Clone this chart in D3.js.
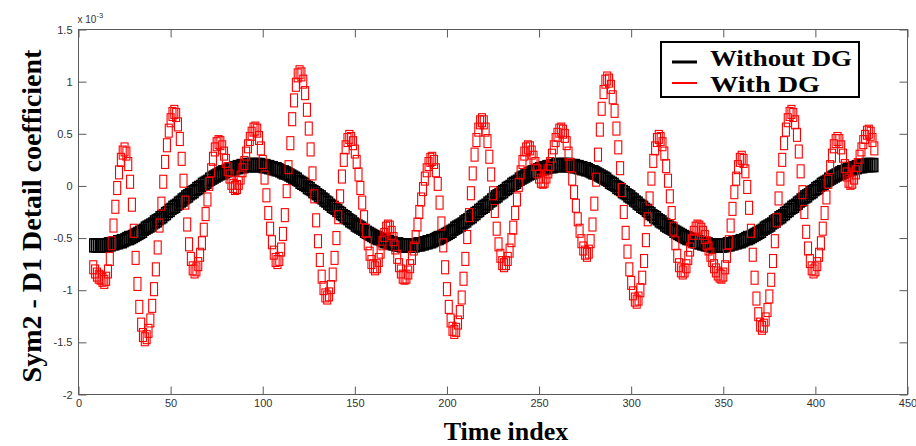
<!DOCTYPE html>
<html>
<head>
<meta charset="utf-8">
<script src="https://cdn.jsdelivr.net/npm/d3@7"></script>
<style>
  html, body { margin: 0; padding: 0; background: #fff; }
  svg { display: block; }
</style>
</head>
<body>
<div id="chart"></div>
<script>
// ---------------- DATA ----------------
const firstIndex = 8; // first time index plotted
const xTickValues = [0, 50, 100, 150, 200, 250, 300, 350, 400, 450];
const yTickValues = [-2, -1.5, -1, -0.5, 0, 0.5, 1, 1.5];
const yTickLabels = ["-2", "-1.5", "-1", "-0.5", "0", "0.5", "1", "1.5"];
const seriesNames = ["Without DG", "With DG"];
const seriesColors = ["#000000", "#ff0000"];

// Without DG (x 10^-3), one value per time index starting at firstIndex
const withoutDG = [
  -0.57,-0.57,-0.57,
  -0.57,-0.57,-0.57,-0.57,-0.57,-0.56,-0.56,-0.56,-0.55,-0.55,
  -0.54,-0.54,-0.53,-0.53,-0.52,-0.51,-0.50,-0.50,-0.49,-0.48,
  -0.47,-0.46,-0.45,-0.44,-0.43,-0.41,-0.40,-0.39,-0.38,-0.37,
  -0.35,-0.34,-0.33,-0.31,-0.30,-0.29,-0.27,-0.26,-0.24,-0.23,
  -0.21,-0.20,-0.19,-0.17,-0.16,-0.14,-0.13,-0.11,-0.10,-0.09,
  -0.07,-0.06,-0.05,-0.03,-0.02,-0.01,0.01,0.02,0.03,0.04,
  0.06,0.07,0.08,0.09,0.10,0.11,0.12,0.13,0.13,0.14,
  0.15,0.16,0.16,0.17,0.17,0.18,0.18,0.19,0.19,0.19,
  0.20,0.20,0.20,0.20,0.20,
  0.20,0.20,0.20,0.20,
  0.19,0.19,0.19,0.18,0.18,0.17,0.17,0.16,0.16,0.15,
  0.14,0.13,0.13,0.12,0.11,0.10,0.09,0.08,0.07,0.06,
  0.04,0.03,0.02,0.01,-0.01,-0.02,-0.03,-0.05,-0.06,-0.07,
  -0.09,-0.10,-0.11,-0.13,-0.14,-0.16,-0.17,-0.19,-0.20,-0.21,
  -0.23,-0.24,-0.26,-0.27,-0.29,-0.30,-0.31,-0.33,-0.34,-0.35,
  -0.37,-0.38,-0.39,-0.40,-0.41,-0.43,-0.44,-0.45,-0.46,-0.47,
  -0.48,-0.49,-0.50,-0.50,-0.51,-0.52,-0.53,-0.53,-0.54,-0.54,
  -0.55,-0.55,-0.56,-0.56,-0.56,-0.57,-0.57,-0.57,-0.57,-0.57,
  -0.57,-0.57,-0.57,-0.57,-0.56,-0.56,-0.56,-0.55,-0.55,
  -0.54,-0.54,-0.53,-0.53,-0.52,-0.51,-0.50,-0.50,-0.49,-0.48,
  -0.47,-0.46,-0.45,-0.44,-0.43,-0.41,-0.40,-0.39,-0.38,-0.37,
  -0.35,-0.34,-0.33,-0.31,-0.30,-0.29,-0.27,-0.26,-0.24,-0.23,
  -0.21,-0.20,-0.19,-0.17,-0.16,-0.14,-0.13,-0.11,-0.10,-0.09,
  -0.07,-0.06,-0.05,-0.03,-0.02,-0.01,0.01,0.02,0.03,0.04,
  0.06,0.07,0.08,0.09,0.10,0.11,0.12,0.13,0.13,0.14,
  0.15,0.16,0.16,0.17,0.17,0.18,0.18,0.19,0.19,0.19,
  0.20,0.20,0.20,0.20,0.20,
  0.20,0.20,0.20,0.20,
  0.19,0.19,0.19,0.18,0.18,0.17,0.17,0.16,0.16,0.15,
  0.14,0.13,0.13,0.12,0.11,0.10,0.09,0.08,0.07,0.06,
  0.04,0.03,0.02,0.01,-0.01,-0.02,-0.03,-0.05,-0.06,-0.07,
  -0.09,-0.10,-0.11,-0.13,-0.14,-0.16,-0.17,-0.19,-0.20,-0.21,
  -0.23,-0.24,-0.26,-0.27,-0.29,-0.30,-0.31,-0.33,-0.34,-0.35,
  -0.37,-0.38,-0.39,-0.40,-0.41,-0.43,-0.44,-0.45,-0.46,-0.47,
  -0.48,-0.49,-0.50,-0.50,-0.51,-0.52,-0.53,-0.53,-0.54,-0.54,
  -0.55,-0.55,-0.56,-0.56,-0.56,-0.57,-0.57,-0.57,-0.57,-0.57,
  -0.57,-0.57,-0.57,-0.57,-0.56,-0.56,-0.56,-0.55,-0.55,
  -0.54,-0.54,-0.53,-0.53,-0.52,-0.51,-0.50,-0.50,-0.49,-0.48,
  -0.47,-0.46,-0.45,-0.44,-0.43,-0.41,-0.40,-0.39,-0.38,-0.37,
  -0.35,-0.34,-0.33,-0.31,-0.30,-0.29,-0.27,-0.26,-0.24,-0.23,
  -0.21,-0.20,-0.19,-0.17,-0.16,-0.14,-0.13,-0.11,-0.10,-0.09,
  -0.07,-0.06,-0.05,-0.03,-0.02,-0.01,0.01,0.02,0.03,0.04,
  0.06,0.07,0.08,0.09,0.10,0.11,0.12,0.13,0.13,0.14,
  0.15,0.16,0.16,0.17,0.17,0.18,0.18,0.19,0.19,0.19,
  0.20,0.20,0.20,0.20,0.20,
  0.20
];

// With DG (x 10^-3), one value per time index starting at firstIndex
const withDG = [
  -0.78,-0.82,-0.85,-0.87,-0.88,-0.90,-0.92,-0.89,-0.82,-0.70,
  -0.55,-0.38,-0.20,-0.02,0.13,0.25,0.32,0.35,0.31,0.21,
  0.04,-0.18,-0.43,-0.69,-0.94,-1.16,-1.33,-1.43,-1.47,-1.45,
  -1.39,-1.29,-1.15,-0.99,-0.80,-0.59,-0.38,-0.17,0.04,0.23,
  0.39,0.53,0.63,0.69,0.71,0.68,0.59,0.45,0.26,0.05,
  -0.16,-0.37,-0.56,-0.70,-0.79,-0.82,-0.80,-0.75,-0.66,-0.55,
  -0.42,-0.27,-0.13,0.02,0.15,0.26,0.35,0.40,0.42,0.41,
  0.37,0.31,0.24,0.16,0.09,0.03,0.00,-0.02,-0.01,0.03,
  0.08,0.15,0.22,0.31,0.38,0.45,0.50,0.54,0.55,0.53,
  0.46,0.36,0.23,0.08,-0.09,-0.26,-0.41,-0.54,-0.64,-0.71,
  -0.73,-0.70,-0.61,-0.46,-0.28,-0.05,0.18,0.41,0.64,0.82,
  0.97,1.06,1.09,1.07,1.00,0.89,0.73,0.55,0.35,0.12,
  -0.10,-0.33,-0.53,-0.71,-0.87,-0.98,-1.05,-1.07,-1.04,-0.97,
  -0.85,-0.69,-0.50,-0.30,-0.10,0.09,0.25,0.37,0.44,0.47,
  0.45,0.41,0.33,0.23,0.11,-0.02,-0.16,-0.30,-0.43,-0.55,
  -0.65,-0.73,-0.77,-0.79,-0.77,-0.71,-0.63,-0.55,-0.47,-0.41,
  -0.39,-0.40,-0.45,-0.51,-0.59,-0.68,-0.76,-0.82,-0.87,-0.88,
  -0.87,-0.83,-0.77,-0.69,-0.60,-0.49,-0.37,-0.25,-0.13,-0.03,
  0.07,0.15,0.21,0.25,0.26,0.23,0.15,0.02,-0.16,-0.36,
  -0.57,-0.78,-0.99,-1.16,-1.29,-1.37,-1.40,-1.38,-1.31,-1.21,
  -1.07,-0.89,-0.70,-0.49,-0.28,-0.07,0.12,0.30,0.44,0.54,
  0.61,0.63,0.61,0.54,0.43,0.28,0.11,-0.07,-0.24,-0.41,
  -0.56,-0.67,-0.74,-0.76,-0.74,-0.70,-0.62,-0.52,-0.40,-0.26,
  -0.13,0.01,0.13,0.23,0.31,0.35,0.37,0.36,0.32,0.27,
  0.21,0.14,0.09,0.05,0.04,0.05,0.09,0.14,0.21,0.29,
  0.37,0.44,0.49,0.53,0.54,0.52,0.48,0.41,0.31,0.20,
  0.07,-0.06,-0.19,-0.32,-0.43,-0.53,-0.60,-0.64,-0.66,-0.63,
  -0.53,-0.37,-0.17,0.06,0.30,0.54,0.74,0.90,1.00,1.03,
  1.01,0.95,0.85,0.72,0.55,0.37,0.17,-0.04,-0.25,-0.45,
  -0.63,-0.80,-0.93,-1.03,-1.09,-1.11,-1.08,-1.00,-0.88,-0.72,
  -0.52,-0.32,-0.12,0.07,0.24,0.36,0.44,0.47,0.45,0.40,
  0.31,0.19,0.05,-0.10,-0.26,-0.41,-0.55,-0.67,-0.76,-0.81,
  -0.83,-0.81,-0.77,-0.69,-0.61,-0.53,-0.45,-0.41,-0.39,-0.40,
  -0.42,-0.45,-0.49,-0.55,-0.60,-0.66,-0.71,-0.77,-0.81,-0.84,
  -0.86,-0.87,-0.85,-0.78,-0.67,-0.54,-0.38,-0.22,-0.06,0.07,
  0.18,0.25,0.27,0.24,0.14,-0.01,-0.21,-0.43,-0.66,-0.88,
  -1.08,-1.23,-1.33,-1.36,-1.34,-1.28,-1.19,-1.06,-0.90,-0.72,
  -0.53,-0.33,-0.12,0.07,0.25,0.41,0.54,0.63,0.69,0.71,
  0.68,0.61,0.49,0.33,0.14,-0.06,-0.25,-0.44,-0.60,-0.72,
  -0.79,-0.82,-0.80,-0.75,-0.66,-0.55,-0.41,-0.26,-0.11,0.04,
  0.18,0.29,0.38,0.43,0.45,0.43,0.37,0.29,0.19,0.11,
  0.05,0.03,0.04,0.08,0.13,0.20,0.28,0.35,0.42,0.47,
  0.51,0.52,0.50,0.44,0.36
];

// ---------------- CHART ----------------
const W = 916, H = 446;
const plot = { left: 78.5, right: 907.5, top: 29.5, bottom: 394.5 };

const svg = d3.select("#chart").append("svg")
  .attr("width", W).attr("height", H)
  .attr("viewBox", `0 0 ${W} ${H}`);

const x = d3.scaleLinear().domain([0, 450]).range([plot.left, plot.right]);
const y = d3.scaleLinear().domain([-2, 1.5]).range([plot.bottom, plot.top]);

const axisColor = "#5a5a5a";
const tickFont = "'Liberation Sans', Arial, sans-serif";
const serif = "'Liberation Serif', 'Times New Roman', serif";

// data series
const series = [withoutDG, withDG].map((vals, s) =>
  vals.map((v, i) => ({ t: firstIndex + i, v, s })));

const mW = 7, mH = 13;
const plotG = svg.append("g");
series.forEach((pts, s) => {
  plotG.append("g")
    .attr("fill", "none")
    .attr("stroke", seriesColors[s])
    .attr("stroke-width", s === 0 ? 1.5 : 1.1)
    .selectAll("rect")
    .data(pts)
    .join("rect")
    .attr("x", d => x(d.t) - mW / 2)
    .attr("y", d => y(d.v) - mH / 2)
    .attr("width", mW)
    .attr("height", mH);
});

// axes (MATLAB style, ticks inside on all sides)
const tickLen = 8;
const fmtY = d => yTickLabels[yTickValues.indexOf(d)];

const gB = svg.append("g").attr("transform", `translate(0,${plot.bottom})`)
  .call(d3.axisBottom(x).tickValues(xTickValues).tickSizeInner(-tickLen).tickSizeOuter(0).tickPadding(5));
const gT = svg.append("g").attr("transform", `translate(0,${plot.top})`)
  .call(d3.axisTop(x).tickValues(xTickValues).tickSizeInner(-tickLen).tickSizeOuter(0).tickFormat(""));
const gL = svg.append("g").attr("transform", `translate(${plot.left},0)`)
  .call(d3.axisLeft(y).tickValues(yTickValues).tickSizeInner(-tickLen).tickSizeOuter(0).tickPadding(6).tickFormat(fmtY));
const gR = svg.append("g").attr("transform", `translate(${plot.right},0)`)
  .call(d3.axisRight(y).tickValues(yTickValues).tickSizeInner(-tickLen).tickSizeOuter(0).tickFormat(""));

[gB, gT, gL, gR].forEach(g => {
  g.select(".domain").remove();
  g.selectAll(".tick line").attr("stroke", axisColor).attr("stroke-width", 1);
  g.selectAll(".tick text").attr("fill", "#333").style("font-family", tickFont).style("font-size", "11px");
});

svg.append("rect")
  .attr("x", plot.left).attr("y", plot.top)
  .attr("width", plot.right - plot.left).attr("height", plot.bottom - plot.top)
  .attr("fill", "none").attr("stroke", axisColor).attr("stroke-width", 1);

// exponent label
const expT = svg.append("text")
  .attr("x", plot.left - 1).attr("y", 23)
  .attr("fill", "#333")
  .style("font-family", tickFont).style("font-size", "10px");
expT.append("tspan").text("x 10");
expT.append("tspan").attr("dy", -5).style("font-size", "7.5px").text("-3");

// axis titles
svg.append("text")
  .attr("x", 506).attr("y", 440)
  .attr("text-anchor", "middle")
  .style("font-family", serif).style("font-weight", "bold").style("font-size", "26px")
  .attr("fill", "#000")
  .text("Time index");

svg.append("text")
  .attr("transform", "translate(41,216) rotate(-90)")
  .attr("text-anchor", "middle")
  .style("font-family", serif).style("font-weight", "bold").style("font-size", "28px")
  .attr("fill", "#000")
  .text("Sym2 - D1 Detail coefficient");

// legend
const lg = svg.append("g");
lg.append("rect")
  .attr("x", 661).attr("y", 42).attr("width", 198).attr("height", 55)
  .attr("fill", "#fff").attr("stroke", "#000").attr("stroke-width", 2);
const legendBaselines = [66, 92];
const legendLineY = [62, 83];
seriesNames.forEach((name, i) => {
  lg.append("line")
    .attr("x1", 672).attr("x2", 697).attr("y1", legendLineY[i]).attr("y2", legendLineY[i])
    .attr("stroke", seriesColors[i]).attr("stroke-width", i === 0 ? 3 : 2);
  lg.append("text")
    .attr("x", 710).attr("y", legendBaselines[i])
    .style("font-family", serif).style("font-weight", "bold").style("font-size", "22.5px")
    .attr("textLength", i === 0 ? 142 : 110)
    .attr("lengthAdjust", "spacingAndGlyphs")
    .attr("fill", "#000")
    .text(name);
});
</script>
</body>
</html>
